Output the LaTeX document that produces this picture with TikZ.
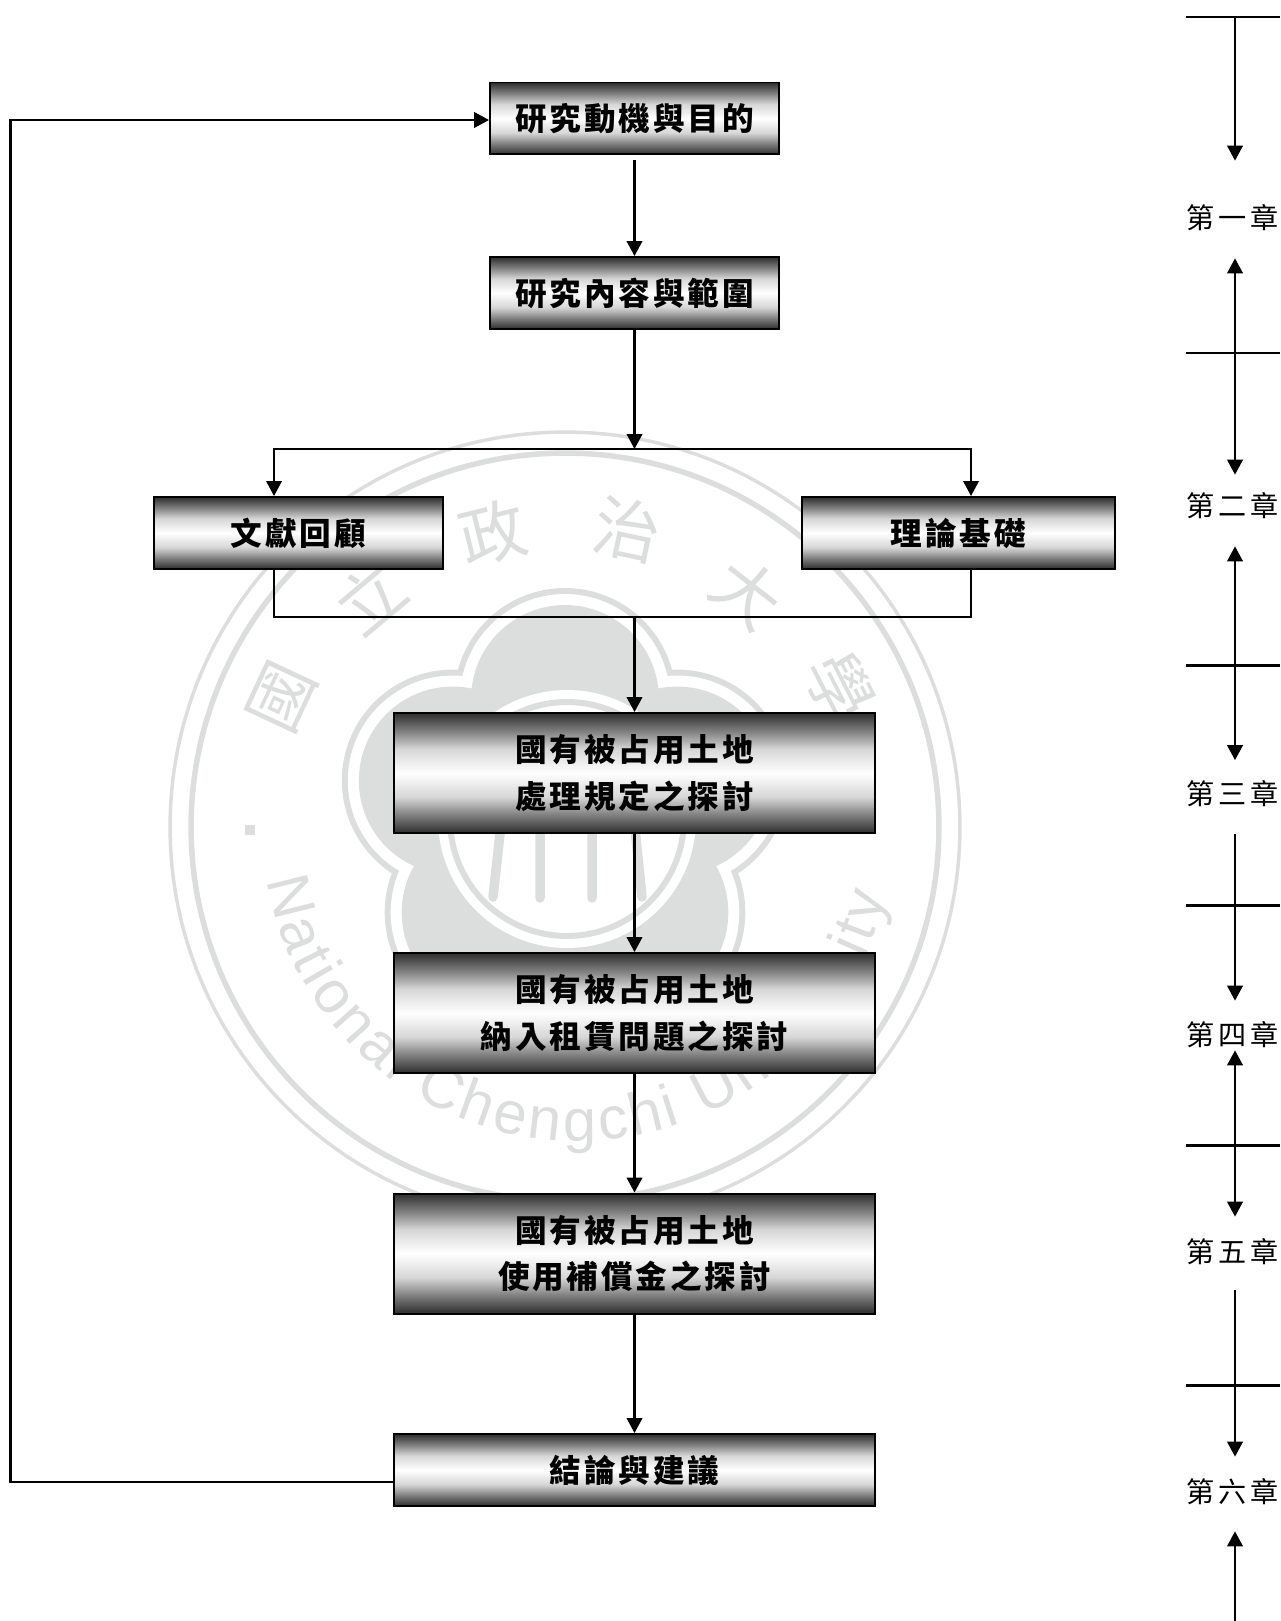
\documentclass[tikz,border=0pt]{standalone}
\usepackage{fontspec}
\usetikzlibrary{arrows.meta,decorations.text}
\newfontfamily\cjk{Noto Sans CJK TC}
\newfontfamily\boxcjk[LetterSpace=9]{Noto Sans CJK TC}
\newfontfamily\chaptercjk[LetterSpace=15]{Noto Sans CJK TC}
\newfontfamily\seallatin{Liberation Sans}
\definecolor{sealgray}{HTML}{DCDEDD}
\pgfdeclareverticalshading{chartshade}{100bp}{color(0bp)=(black!82); color(25bp)=(black!82); color(33bp)=(black!48);
  color(40bp)=(black!16); color(50bp)=(white); color(60bp)=(black!16); color(67bp)=(black!48); color(75bp)=(black!82); color(100bp)=(black!82)}
\tikzset{
  flowbox/.style={draw=black,line width=.04cm,shading=chartshade,
    inner sep=0pt,minimum width=5.78cm,minimum height=1.44cm,align=center,
    font=\boxcjk\bfseries\fontsize{18}{26.6}\selectfont},
  widebox/.style={flowbox,minimum width=9.62cm},
  tallbox/.style={widebox,minimum height=2.4cm},
  chapterlabel/.style={inner sep=0pt,minimum height=1cm,font=\chaptercjk\fontsize{16}{18}\selectfont,execute at end node=\kern.1cm},
  flowline/.style={line width=.048cm,-{Triangle[length=.3cm,width=.31cm]}},
  twoway/.style={flowline,{Triangle[length=.3cm,width=.31cm]}-{Triangle[length=.3cm,width=.31cm]}},
  splitline/.style={line width=.04cm},
  ruleline/.style={line width=.044cm},
  sealchar/.style={text=sealgray,inner sep=0pt,font=\cjk\fontsize{38}{38}\selectfont}
}
\begin{document}
\begin{tikzpicture}[x=.02cm,y=-.02cm,line join=miter]
\useasboundingbox (0,0) rectangle (1280,1621);

% seal behind the chart
\coordinate (seal) at (565,827);
\coordinate (flower) at (565,817);
\draw[sealgray,line width=.07cm] (seal) circle[radius=7.9cm];
\draw[sealgray,line width=.11cm] (seal) circle[radius=7.48cm];
\foreach \a in {90,18,-54,-126,162}
  \fill[sealgray] ([shift={(\a:2.36cm)}]flower) circle[radius=2.22cm];
\foreach \a in {90,18,-54,-126,162}
  \fill[white] ([shift={(\a:2.36cm)}]flower) circle[radius=2.1cm];
\fill[white] (flower) circle[radius=2.2cm];
\foreach \a in {90,18,-54,-126,162}
  \fill[sealgray] ([shift={(\a:2.36cm)}]flower) circle[radius=1.88cm];
\fill[sealgray] (flower) circle[radius=2.2cm];
\fill[white] (567,819) circle[radius=2.58cm];
\draw[sealgray,line width=.12cm] (567,819) circle[radius=2.34cm];
\draw[sealgray,line width=.19cm,line cap=round] (506,780) -- (493,897) (540,780) -- (540,898) (592,780) -- (592,898) (630,780) -- (642,897);
\node[sealchar,rotate=65] (sealA) at (282,697) {國};
\node[sealchar,rotate=40] (sealB) at (370,597) {立};
\node[sealchar,rotate=14] (sealC) at (493,533) {政};
\node[sealchar,rotate=-12] (sealD) at (627,530) {治};
\node[sealchar,rotate=-38] (sealE) at (747,593) {大};
\node[sealchar,rotate=-63] (sealF) at (840,687) {學};
\fill[sealgray] (245,825) rectangle (255,835);
\path[decorate,decoration={text along path,text align={fit to path},
  text={|\seallatin\fontsize{34}{34}\selectfont\color{sealgray}|National Chengchi University}}]
  (578,825) ++(190:6.32cm) arc[start angle=190,end angle=347,radius=6.32cm];

% chart
\node[flowbox] (motive) at (634.5,118.5) {研究動機與目的};
\node[flowbox] (scope) at (634.5,293) {研究內容與範圍};
\node[flowbox] (review) at (298.5,533) {文獻回顧};
\node[flowbox,minimum width=6.26cm] (theory) at (958.5,533) {理論基礎};
\node[tallbox] (rules) at (634.5,773) {國有被占用土地\\處理規定之探討};
\node[tallbox] (lease) at (634.5,1013) {國有被占用土地\\納入租賃問題之探討};
\node[tallbox] (payment) at (634.5,1253.5) {國有被占用土地\\使用補償金之探討};
\node[widebox] (closing) at (634.5,1470) {結論與建議};
\coordinate (split) at (634.5,449);
\coordinate (merge) at (634.5,617);
\coordinate (back) at (10.5,1482);

\draw[flowline] ([yshift=-.1cm]motive.south) -- (scope.north);
\draw[flowline] (scope.south) -- (split);
\draw[flowline,line width=.04cm] (split) -| ([xshift=-.49cm]review.north);
\draw[flowline,line width=.04cm] (split) -| ([xshift=.25cm]theory.north);
\draw[splitline] ([xshift=-.49cm]review.south) |- (merge) -| ([xshift=.25cm]theory.south);
\draw[flowline] (merge) -- (rules.north);
\draw[flowline] (rules.south) -- (lease.north);
\draw[flowline] (lease.south) -- (payment.north);
\draw[flowline] (payment.south) -- (closing.north);
\draw[flowline] (closing.west |- back) -- (back) |- ([yshift=-.03cm]motive.west);

% chapter column
\node[chapterlabel] (ch1) at (1235,218) {第一章};
\node[chapterlabel] (ch2) at (1235,506) {第二章};
\node[chapterlabel] (ch3) at (1235,794) {第三章};
\node[chapterlabel] (ch4) at (1235,1035) {第四章};
\node[chapterlabel] (ch5) at (1235,1252) {第五章};
\node[chapterlabel] (ch6) at (1235,1492) {第六章};
\coordinate (rule0) at (1235,17);
\coordinate (end) at (1235,1621);
\foreach \y in {17,353,665.5,905.5,1145.5,1385.5}
  \draw[ruleline] (1186,\y) -- (1280,\y);
\draw[flowline] (rule0) -- ([yshift=.64cm]ch1.north);
\draw[twoway] ([yshift=-.3cm]ch1.south) -- ([yshift=.12cm]ch2.north);
\draw[twoway] ([yshift=-.3cm]ch2.south) -- ([yshift=.17cm]ch3.north);
\draw[flowline] ([yshift=-.3cm]ch3.south) -- ([yshift=.18cm]ch4.north);
\draw[twoway] ([yshift=.2cm]ch4.south) -- ([yshift=.2cm]ch5.north);
\draw[flowline] ([yshift=-.26cm]ch5.south) -- ([yshift=.2cm]ch6.north);
\draw[flowline,{Triangle[length=.3cm,width=.31cm]}-] ([yshift=-.28cm]ch6.south) -- (end);
\end{tikzpicture}
\end{document}
